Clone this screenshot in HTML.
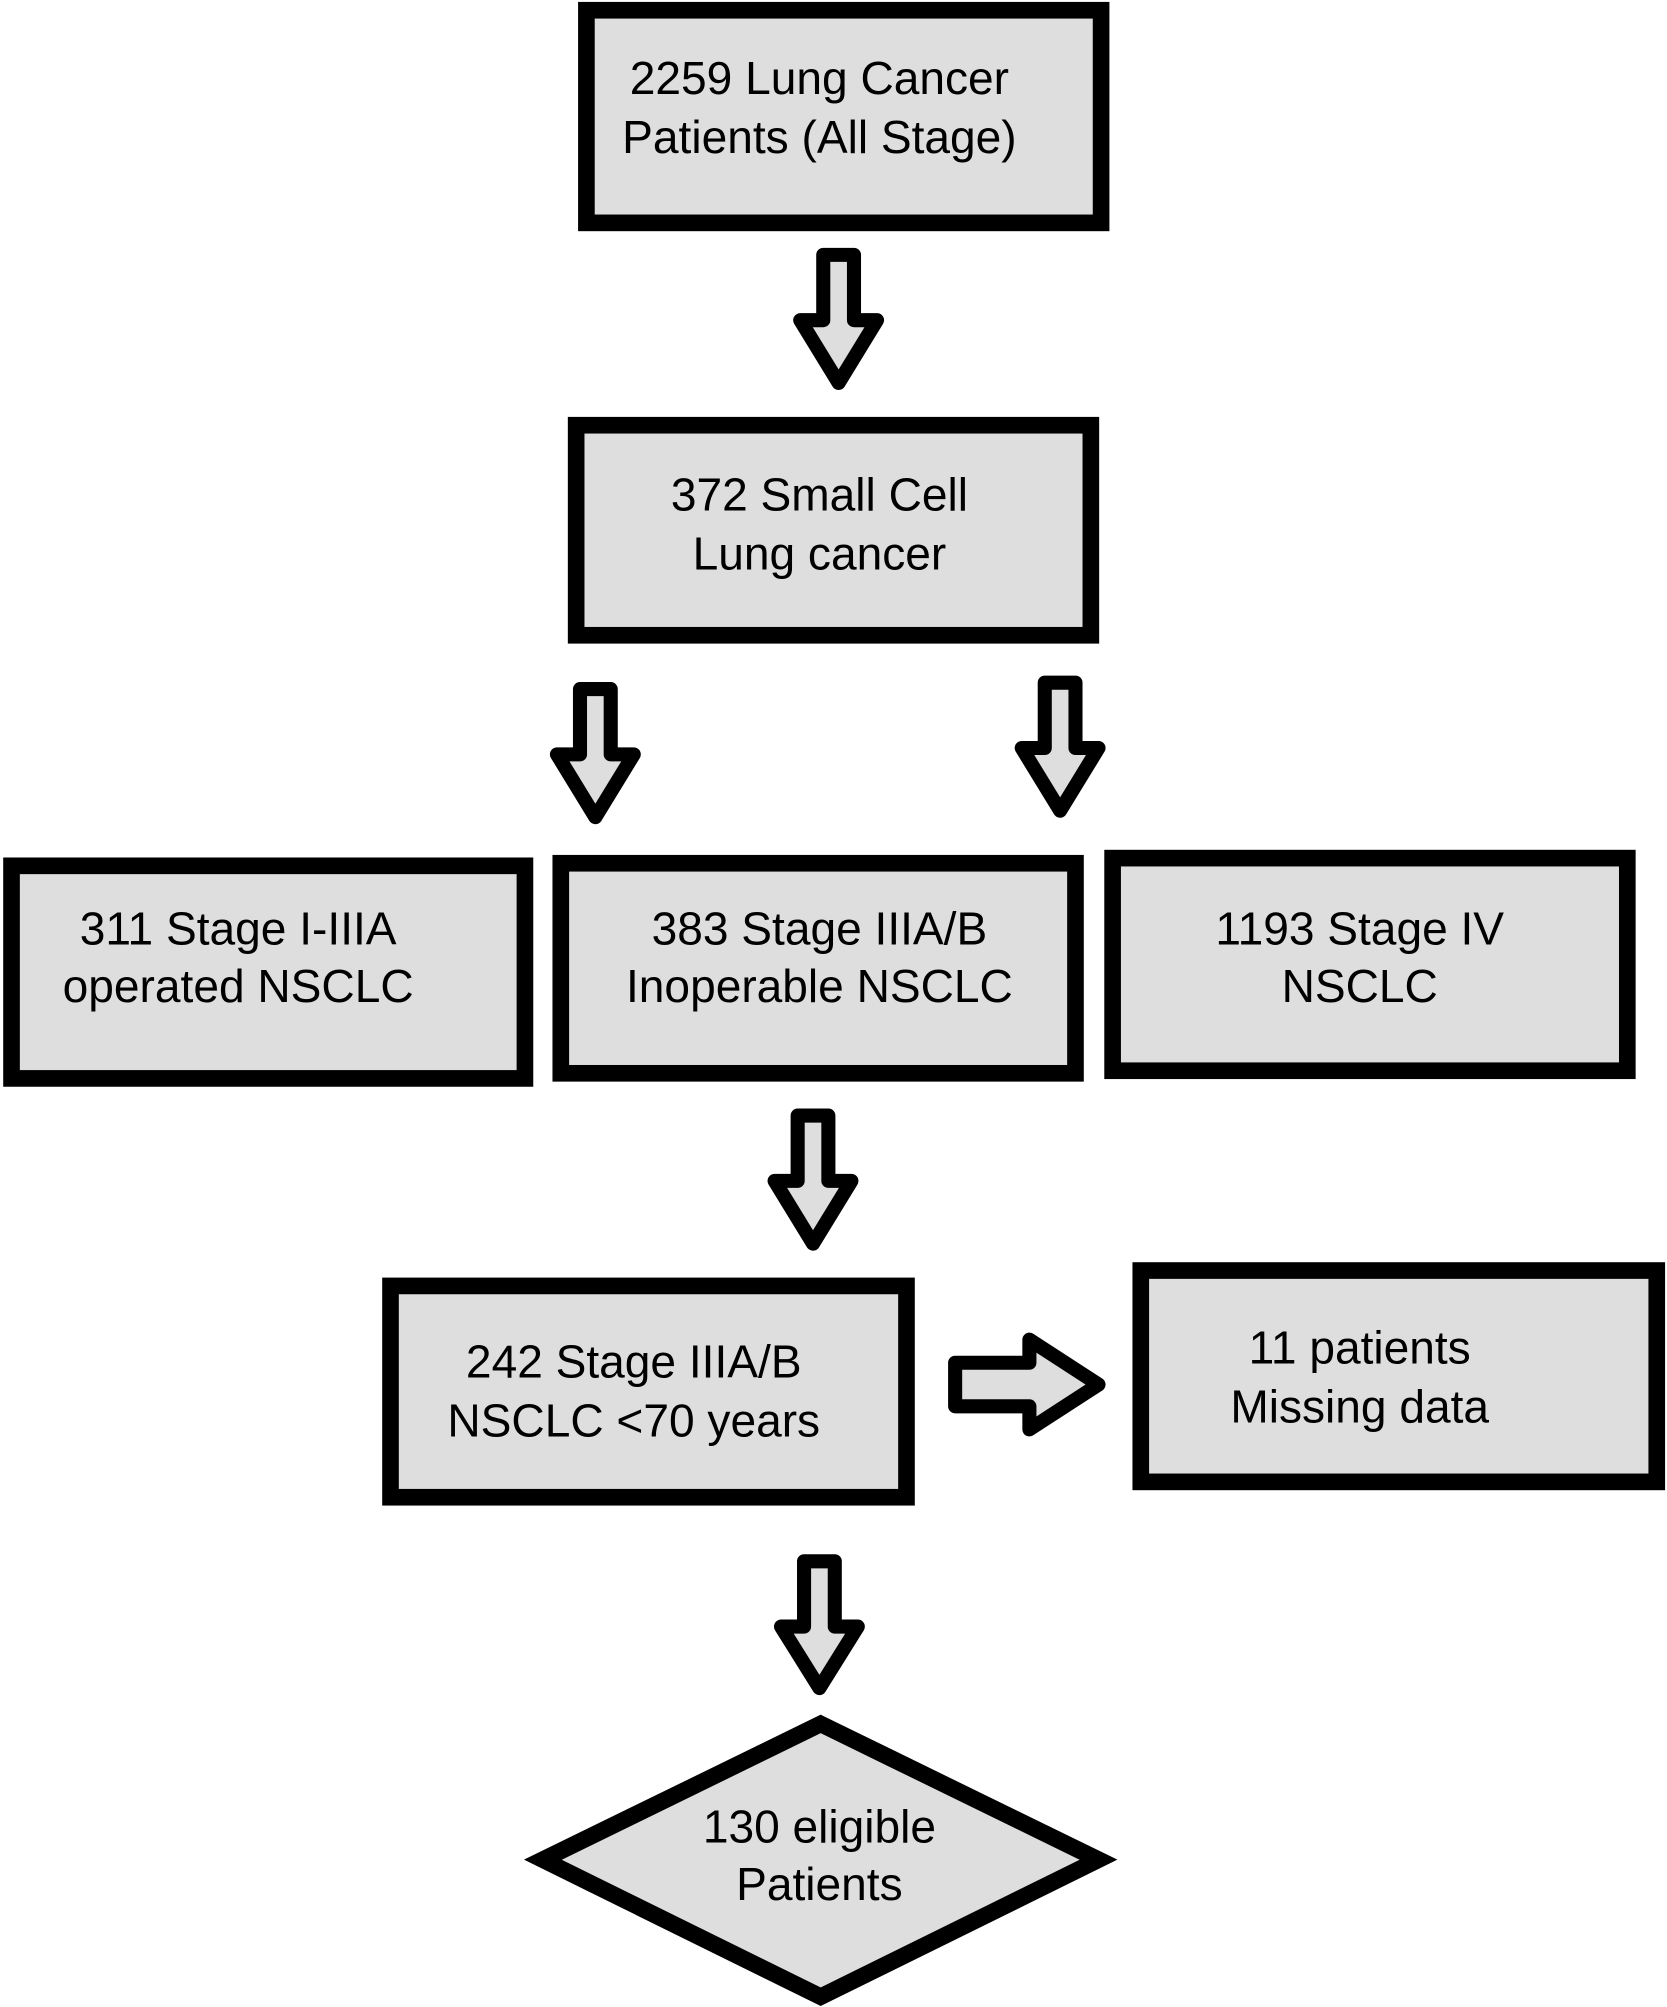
<!DOCTYPE html>
<html><head><meta charset="utf-8"><style>html,body{margin:0;padding:0;background:#fff}svg{display:block}</style></head>
<body>
<svg width="1667" height="2007" viewBox="0 0 1302 1567" preserveAspectRatio="none" xmlns="http://www.w3.org/2000/svg">
<g fill="#dedede" stroke="#000" stroke-width="13" stroke-linejoin="miter">
<rect x="458" y="8" width="402" height="166"/>
<rect x="450" y="332" width="402" height="164"/>
<rect x="9" y="676" width="401" height="166"/>
<rect x="438" y="674" width="402" height="164"/>
<rect x="869" y="670" width="402" height="166"/>
<rect x="305" y="1004" width="403" height="165"/>
<rect x="891" y="992" width="403" height="165"/>
<polygon points="641,1346 858,1452 641,1559 424,1452"/>
</g>
<g fill="#dedede" stroke="#000" stroke-width="11" stroke-linejoin="round">
<polygon points="643,199 667,199 667,250 685,250 655,299 625,250 643,250"/>
<polygon points="453,538 477,538 477,589 495,589 465,638 435,589 453,589"/>
<polygon points="816,533 840,533 840,584 858,584 828,633 798,584 816,584"/>
<polygon points="623,871 647,871 647,922 665,922 635,971 605,922 623,922"/>
<polygon points="628,1219 652,1219 652,1270 670,1270 640,1318 610,1270 628,1270"/>
<polygon points="746,1064 804,1064 804,1046 858,1081 804,1116 804,1098 746,1098"/>
</g>
<g font-family="Liberation Sans, sans-serif" font-size="36" fill="#000" text-anchor="middle" dominant-baseline="middle">
<text x="640" y="64">2259 Lung Cancer</text><text x="640" y="110">Patients (All Stage)</text>
<text x="640" y="389">372 Small Cell</text><text x="640" y="435">Lung cancer</text>
<text x="186" y="728">311 Stage I-IIIA</text><text x="186" y="773">operated NSCLC</text>
<text x="640" y="728">383 Stage IIIA/B</text><text x="640" y="773">Inoperable NSCLC</text>
<text x="1062" y="728">1193 Stage IV</text><text x="1062" y="773">NSCLC</text>
<text x="495" y="1066">242 Stage IIIA/B</text><text x="495" y="1112">NSCLC &lt;70 years</text>
<text x="1062" y="1055">11 patients</text><text x="1062" y="1101">Missing data</text>
<text x="640" y="1429">130 eligible</text><text x="640" y="1474">Patients</text>
</g>
</svg>
</body></html>
